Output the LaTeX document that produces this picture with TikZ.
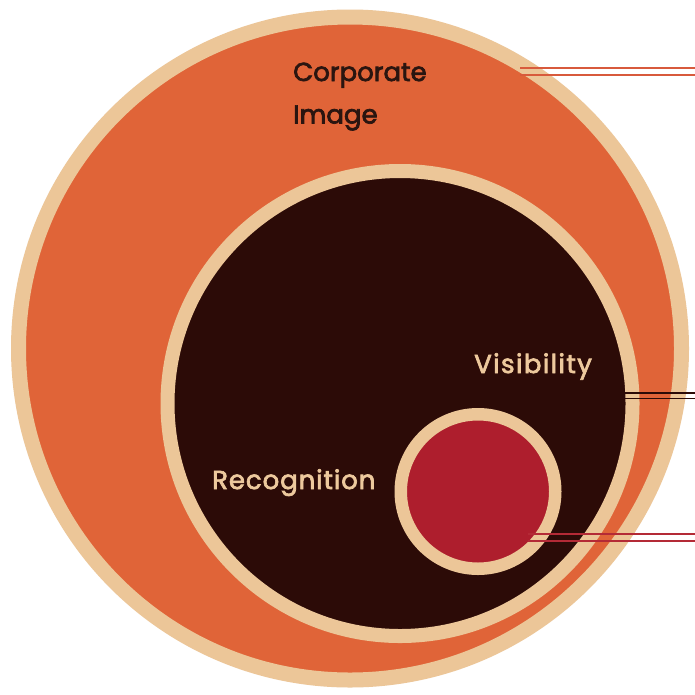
\documentclass[tikz,border=0pt]{standalone}
\usepackage{fontspec}
\newfontfamily\labfont{Poppins}
\newcommand\thicktext[1]{\special{pdf:literal direct 2 Tr 0.7 w}#1\special{pdf:literal direct 0 Tr}}
\definecolor{orangec}{HTML}{E06438}
\definecolor{creamc}{HTML}{ECC698}
\definecolor{darkc}{HTML}{2C0B07}
\definecolor{redc}{HTML}{AE1E2D}
\definecolor{textdark}{HTML}{2A1510}
\definecolor{textcream}{HTML}{EDC99D}
\definecolor{lineorange}{HTML}{D85A3C}
\definecolor{linered}{HTML}{B42A36}
\tikzset{
  ring/.style={circle, inner sep=0pt, draw=creamc},
  lab/.style={anchor=base west, inner sep=0pt, font=\labfont\fontsize{26}{30}\selectfont},
  leader/.style={line width=1.8pt},
}
\begin{document}
\begin{tikzpicture}[x=1pt,y=-1pt]
\useasboundingbox (0,0) rectangle (695,694);
\fill[white] (0,0) rectangle (695,694);
% circles
\node[ring, fill=orangec, line width=15pt, minimum size=663pt] (outer) at (350,348.5) {};
\node[ring, fill=darkc, line width=14pt, minimum size=465pt] (mid) at (400,403.5) {};
\node[ring, fill=redc, line width=12.5pt, minimum size=154.5pt] (inner) at (478,491.5) {};
% labels
\node[lab, text=textdark] (corp) at (293,81) {\thicktext{Corporate}};
\node[lab, text=textdark] (img) at (293,123.5) {\thicktext{Image}};
\node[lab, text=textcream] (vis) at (474,373) {\addfontfeature{LetterSpace=5.5}\thicktext{Visibility}};
\node[lab, text=textcream] (rec) at (212,489) {\addfontfeature{LetterSpace=3.5}\thicktext{Recognition}};
% leader lines
\coordinate (t1a) at (520,68); \coordinate (t1b) at (695,68);
\coordinate (t2a) at (520,75); \coordinate (t2b) at (695,75);
\coordinate (m1a) at (585,393); \coordinate (m1b) at (695,393);
\coordinate (m2a) at (585,398.5); \coordinate (m2b) at (695,398.5);
\coordinate (b1a) at (528,534); \coordinate (b1b) at (695,534);
\coordinate (b2a) at (528,541); \coordinate (b2b) at (695,541);
\draw[leader, lineorange] (t1a) -- (t1b);
\draw[leader, lineorange] (t2a) -- (t2b);
\draw[leader, darkc] (m1a) -- (m1b);
\draw[leader, darkc] (m2a) -- (m2b);
\draw[leader, linered] (b1a) -- (b1b);
\draw[leader, linered] (b2a) -- (b2b);
\end{tikzpicture}
\end{document}
